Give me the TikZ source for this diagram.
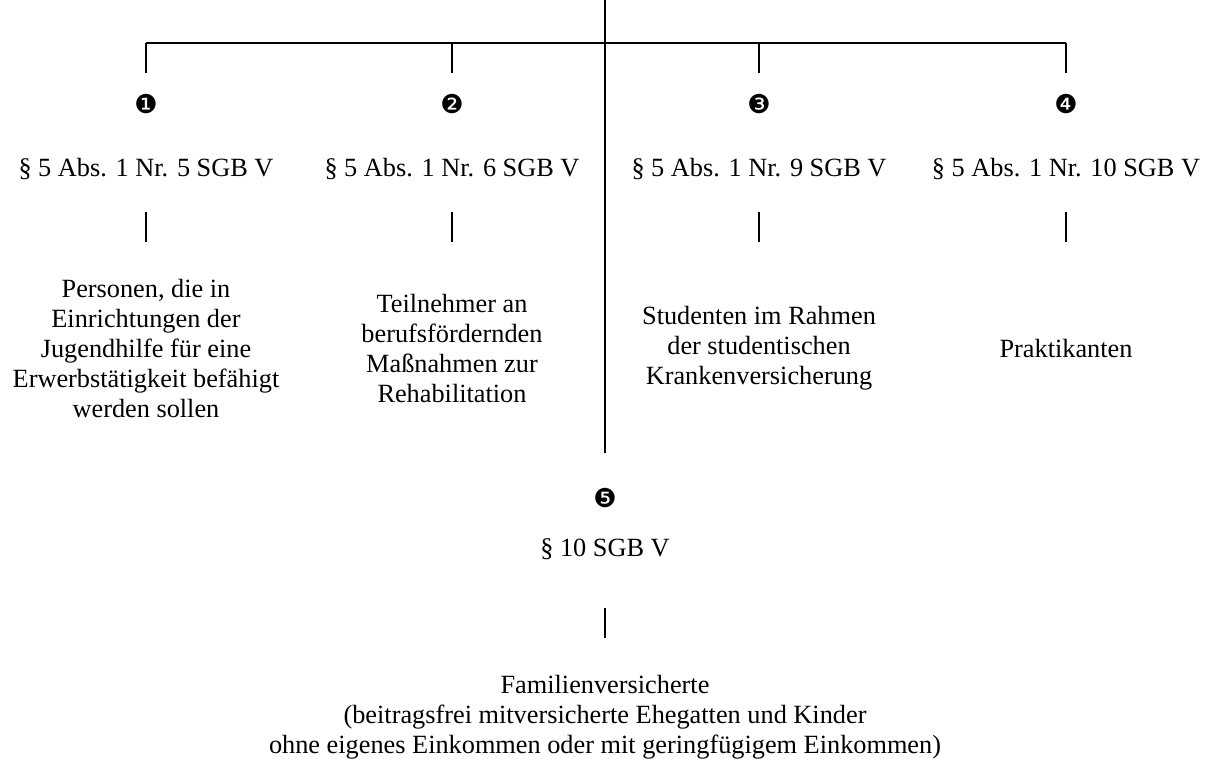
\documentclass[tikz,border=0pt]{standalone}
\usepackage{fontspec}
\setmainfont{Liberation Serif}
\newfontfamily\dingfont{DejaVu Sans}
\begin{document}
\begin{tikzpicture}[x=1pt,y=-1pt,
  line/.style={line width=2pt},
  num/.style={font=\dingfont\fontsize{26}{28}\selectfont, inner sep=0pt},
  law/.style={font=\fontsize{26.3}{30}\selectfont, inner sep=0pt, anchor=base},
  desc/.style={font=\fontsize{26.3}{30}\selectfont, inner sep=0pt, align=center}]
\useasboundingbox (0,0) rectangle (1209,758);
% main trunk
\coordinate (top) at (605,0);
\coordinate (trunkend) at (605,453);
\draw[line] (top) -- (trunkend);
% branch bar
\coordinate (b1) at (146,43);
\coordinate (b2) at (452,43);
\coordinate (b3) at (759,43);
\coordinate (b4) at (1066,43);
\draw[line] (b1) -- (b4);
\coordinate (d1) at (146,73);
\coordinate (d2) at (452,73);
\coordinate (d3) at (759,73);
\coordinate (d4) at (1066,73);
\draw[line] (b1) -- (d1);
\draw[line] (b2) -- (d2);
\draw[line] (b3) -- (d3);
\draw[line] (b4) -- (d4);
% numbers
\node[num] (n1) at (146,104) {❶};
\node[num] (n2) at (452,104) {❷};
\node[num] (n3) at (759,104) {❸};
\node[num] (n4) at (1066,104) {❹};
% laws
\node[law] (l1) at (146,176) {§ 5 Abs. 1 Nr. 5 SGB V};
\node[law] (l2) at (452,176) {§ 5 Abs. 1 Nr. 6 SGB V};
\node[law] (l3) at (759,176) {§ 5 Abs. 1 Nr. 9 SGB V};
\node[law] (l4) at (1066,176) {§ 5 Abs. 1 Nr. 10 SGB V};
% short lines
\foreach \x/\i in {146/1,452/2,759/3,1066/4}{
  \coordinate (s\i a) at (\x,212);
  \coordinate (s\i b) at (\x,242);
  \draw[line] (s\i a) -- (s\i b);
}
% descriptions
\node[desc] (t1) at (146,348) {Personen, die in\\Einrichtungen der\\Jugendhilfe für eine\\Erwerbstätigkeit befähigt\\werden sollen};
\node[desc] (t2) at (452,348) {Teilnehmer an\\berufsfördernden\\Maßnahmen zur\\Rehabilitation};
\node[desc] (t3) at (759,348) {Studenten im Rahmen\\der studentischen\\Krankenversicherung};
\node[desc] (t4) at (1066,348) {Praktikanten};
% fifth branch
\node[num] (n5) at (605,498) {❺};
\node[law] (l5) at (605,556) {§ 10 SGB V};
\coordinate (s5a) at (605,608);
\coordinate (s5b) at (605,638);
\draw[line] (s5a) -- (s5b);
\node[desc] (t5) at (605,717) {Familienversicherte\\(beitragsfrei mitversicherte Ehegatten und Kinder\\ohne eigenes Einkommen oder mit geringfügigem Einkommen)};
\end{tikzpicture}
\end{document}
